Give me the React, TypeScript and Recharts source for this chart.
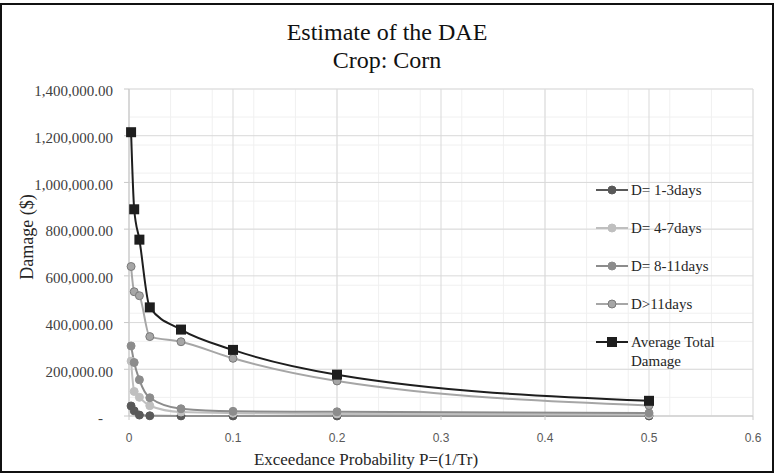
import { CartesianGrid, Legend, Line, LineChart, XAxis, YAxis } from "recharts";

const probability = [0.002, 0.005, 0.01, 0.02, 0.05, 0.1, 0.2, 0.5];
const days1to3 = [43000, 22000, 4000, 1000, 500, 300, 200, 100];
const days4to7 = [235000, 105000, 80000, 44000, 17000, 12000, 9000, 6000];
const days8to11 = [300000, 229000, 155000, 78000, 31000, 20000, 18000, 13000];
const daysOver11 = [640000, 532000, 515000, 340000, 318000, 247000, 150000, 45000];
const averageTotal = [1215000, 885000, 755000, 465000, 370000, 283000, 177000, 65000];

const xTicks = [0, 0.1, 0.2, 0.3, 0.4, 0.5, 0.6];
const yTicks = [0, 200000, 400000, 600000, 800000, 1000000, 1200000, 1400000];
const xMinor = Array.from({ length: 31 }, (_, i) => +(i * 0.02).toFixed(2));
const yMinor = Array.from({ length: 36 }, (_, i) => i * 40000);

const legendOrder = ["d13", "d47", "d811", "d11", "avg"];

const data = probability.map((p, i) => ({
  p,
  d13: days1to3[i],
  d47: days4to7[i],
  d811: days8to11[i],
  d11: daysOver11[i],
  avg: averageTotal[i],
}));

const SERIF = "'Liberation Serif', 'Times New Roman', serif";

const seriesStyle: Record<string, { line: string; fill: string; stroke: string; square?: boolean }> = {
  d13: { line: "#595959", fill: "#595959", stroke: "#595959" },
  d47: { line: "#bfbfbf", fill: "#bfbfbf", stroke: "#bfbfbf" },
  d811: { line: "#8c8c8c", fill: "#8c8c8c", stroke: "#8c8c8c" },
  d11: { line: "#a6a6a6", fill: "#a6a6a6", stroke: "#7a7a7a" },
  avg: { line: "#1e1e1e", fill: "#1e1e1e", stroke: "#1e1e1e", square: true },
};

function YTick({ x, y, payload }: any) {
  const v = payload.value as number;
  const label =
    v === 0 ? "-" : v.toLocaleString("en-US", { minimumFractionDigits: 2, maximumFractionDigits: 2 });
  return (
    <text x={v === 0 ? x - 10 : x} y={y + 2} dy="0.35em" textAnchor="end" fontFamily={SERIF} fontSize={15} fill="#404040">
      {label}
    </text>
  );
}

function circleDot(key: string) {
  const s = seriesStyle[key];
  return (props: any) => (
    <circle key={`${key}-${props.index}`} cx={props.cx} cy={props.cy} r={4} fill={s.fill} stroke={s.stroke} strokeWidth={1} />
  );
}

function squareDot(props: any) {
  return <rect key={`avg-${props.index}`} x={props.cx - 5} y={props.cy - 5} width={10} height={10} fill="#1e1e1e" />;
}

function LegendContent({ payload }: any) {
  const items = [...(payload || [])].sort(
    (a: any, b: any) => legendOrder.indexOf(a.dataKey) - legendOrder.indexOf(b.dataKey)
  );
  return (
    <svg width={180} height={200}>
      {items.map((entry: any, i: number) => {
        const key = entry.dataKey as string;
        const s = seriesStyle[key];
        const cy = 20 + i * 38;
        const lines = String(entry.value).split("\n");
        return (
          <g key={key}>
            <line x1={6} x2={38} y1={cy} y2={cy} stroke={s.line} strokeWidth={2} />
            {s.square ? (
              <rect x={17} y={cy - 5} width={10} height={10} fill={s.fill} />
            ) : (
              <circle cx={22} cy={cy} r={4} fill={s.fill} stroke={s.stroke} />
            )}
            <text x={41} y={cy} fontFamily={SERIF} fontSize={15} fill="#262626">
              {lines.map((t, j) => (
                <tspan key={j} x={41} dy={j === 0 ? "0.35em" : 18.5}>
                  {t}
                </tspan>
              ))}
            </text>
          </g>
        );
      })}
    </svg>
  );
}

export default function App() {
  return (
    <div style={{ position: "relative", width: 775, height: 475, background: "#fff" }}>
      <style>{`body{margin:0}`}</style>
      <LineChart width={775} height={475} data={data} margin={{ top: 89, right: 22, bottom: 0, left: 0 }}>
        <XAxis xAxisId="minor" type="number" dataKey="p" domain={[0, 0.6]} ticks={xMinor} allowDataOverflow hide />
        <YAxis yAxisId="minor" type="number" domain={[0, 1400000]} ticks={yMinor} allowDataOverflow hide />
        <CartesianGrid xAxisId="minor" yAxisId="minor" stroke="#f0f0f0" strokeWidth={1} />
        <CartesianGrid stroke="#d9d9d9" strokeWidth={1} />
        <XAxis
          dataKey="p"
          type="number"
          domain={[0, 0.6]}
          ticks={xTicks}
          interval={0}
          height={59}
          stroke="#c8c8c8"
          tickSize={4}
          tickMargin={13}
          tick={{ fontFamily: "'Liberation Sans', Arial, sans-serif", fontSize: 12, fill: "#595959" }}
        />
        <YAxis
          type="number"
          domain={[0, 1400000]}
          ticks={yTicks}
          interval={0}
          width={129}
          stroke="#c8c8c8"
          tickSize={5}
          tickMargin={11}
          tick={<YTick />}
        />
        <Legend
          layout="vertical"
          align="center"
          verticalAlign="middle"
          wrapperStyle={{ position: "absolute", left: 590, top: 170, width: 180, height: 200 }}
          content={<LegendContent />}
        />
        <Line dataKey="d13" name="D= 1-3days" type="monotone" stroke={seriesStyle.d13.line} strokeWidth={2} dot={circleDot("d13")} isAnimationActive={false} />
        <Line dataKey="d47" name="D= 4-7days" type="monotone" stroke={seriesStyle.d47.line} strokeWidth={2} dot={circleDot("d47")} isAnimationActive={false} />
        <Line dataKey="d811" name="D= 8-11days" type="monotone" stroke={seriesStyle.d811.line} strokeWidth={2} dot={circleDot("d811")} isAnimationActive={false} />
        <Line dataKey="d11" name="D>11days" type="monotone" stroke={seriesStyle.d11.line} strokeWidth={2} dot={circleDot("d11")} isAnimationActive={false} />
        <Line dataKey="avg" name={"Average Total\nDamage"} type="monotone" stroke={seriesStyle.avg.line} strokeWidth={2} dot={squareDot} isAnimationActive={false} />
      </LineChart>
      <svg width={775} height={475} style={{ position: "absolute", left: 0, top: 0, pointerEvents: "none" }}>
        <rect x={1} y={4} width={772} height={468} fill="none" stroke="#111" strokeWidth={2} />
        <text x={387} y={40} textAnchor="middle" fontFamily={SERIF} fontSize={24} fill="#111">
          Estimate of the DAE
        </text>
        <text x={387} y={68} textAnchor="middle" fontFamily={SERIF} fontSize={24} fill="#111">
          Crop: Corn
        </text>
        <text x={366} y={465} textAnchor="middle" fontFamily={SERIF} fontSize={17} fill="#262626">
          Exceedance Probability P=(1/Tr)
        </text>
        <text x={33} y={237} textAnchor="middle" fontFamily={SERIF} fontSize={18} fill="#262626" transform="rotate(-90 33 237)">
          Damage ($)
        </text>
      </svg>
    </div>
  );
}
